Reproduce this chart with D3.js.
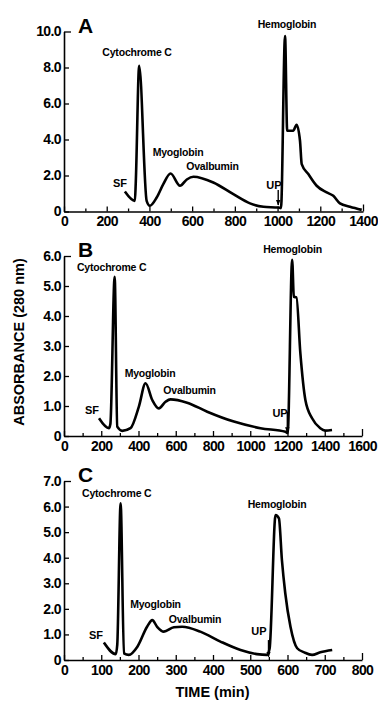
<!DOCTYPE html>
<html><head><meta charset="utf-8">
<script src="https://cdn.jsdelivr.net/npm/d3@7"></script>
<style>html,body{margin:0;padding:0;background:#fff;}svg{display:block;}</style>
</head><body>
<script>
// ---- data ----
const timeA = [285, 332, 336, 352, 387, 402, 434, 465, 499, 543, 575, 606, 699, 793, 871, 934, 1003, 1016, 1035, 1045, 1073, 1089, 1105, 1113, 1144, 1183, 1230, 1261, 1292, 1339, 1394];
const absA  = [1.11, 0.59, 1.6, 8.1, 0.59, 0.32, 0.78, 1.52, 2.11, 1.43, 1.78, 1.93, 1.61, 0.96, 0.45, 0.26, 0.22, 0.19, 9.75, 4.49, 4.49, 4.82, 3.93, 2.63, 2.08, 1.43, 1.06, 0.87, 0.45, 0.26, 0.09];

const timeB = [188, 241, 249, 272, 286, 313, 357, 402, 438, 474, 509, 545, 572, 661, 769, 912, 1055, 1189, 1201, 1225, 1234, 1248, 1269, 1296, 1332, 1376, 1403, 1439];
const absB  = [0.59, 0.26, 0.4, 5.31, 0.31, 0.17, 0.26, 0.98, 1.76, 1.2, 0.92, 1.14, 1.22, 1.11, 0.81, 0.48, 0.26, 0.14, 0.1, 5.87, 4.64, 4.62, 2.76, 1.2, 0.59, 0.26, 0.18, 0.2];

const timeC = [107, 139, 143, 152, 161, 174, 197, 223, 237, 250, 268, 295, 317, 366, 420, 474, 518, 545, 552, 568, 577, 585, 594, 608, 626, 645, 666, 688, 720];
const absC  = [0.68, 0.23, 0.6, 6.13, 0.26, 0.2, 0.52, 1.3, 1.56, 1.3, 1.11, 1.28, 1.3, 1.11, 0.72, 0.39, 0.23, 0.2, 0.45, 5.67, 5.54, 3.91, 2.61, 1.3, 0.46, 0.3, 0.2, 0.3, 0.39];

const xTicksA = [0, 200, 400, 600, 800, 1000, 1200, 1400];
const xTicksB = [0, 200, 400, 600, 800, 1000, 1200, 1400, 1600];
const xTicksC = [0, 100, 200, 300, 400, 500, 600, 700, 800];
const yTicksA = [0, 2, 4, 6, 8, 10];
const yTicksB = [0, 1, 2, 3, 4, 5, 6];
const yTicksC = [0, 1, 2, 3, 4, 5, 6, 7];

const labelNames = ["Cytochrome C", "Hemoglobin", "Myoglobin", "Ovalbumin", "SF", "UP"];
const labelTimeA = [342, 1044, 534, 695, 262, 983];
const labelAbsA  = [8.86, 10.42, 3.32, 2.54, 1.6, 1.47];
const labelTimeB = [256, 1227, 462, 674, 150, 1160];
const labelAbsB  = [5.62, 6.22, 2.09, 1.53, 0.87, 0.77];
const labelTimeC = [141.5, 572, 245.6, 351.7, 86, 523.5];
const labelAbsC  = [6.54, 6.09, 2.18, 1.6, 0.98, 1.13];

// UP arrow: [time, top absorbance, bottom absorbance]
const upArrowA = [1003, 1.19, 0.36];
const upArrowB = [1199, 0.81, 0.12];
const upArrowC = [549, 0.78, 0.13];

const panelLetters = ["A", "B", "C"];
const yTitle = "ABSORBANCE (280 nm)";
const xTitle = "TIME (min)";

// ---- layout ----
const W = 378, H = 701;
const FONT = "'Liberation Sans', Arial, Helvetica, sans-serif";
const svg = d3.select("body").append("svg").attr("width", W).attr("height", H);
svg.append("rect").attr("width", W).attr("height", H).attr("fill", "#fff");

const defs = svg.append("defs");
defs.append("marker").attr("id", "arr").attr("viewBox", "0 0 10 10")
  .attr("refX", 9).attr("refY", 5).attr("markerWidth", 4).attr("markerHeight", 5)
  .attr("orient", "auto").attr("markerUnits", "strokeWidth")
  .append("path").attr("d", "M0,1 L10,5 L0,9 Z").attr("fill", "#000");

const panels = [
  {time: timeA, abs: absA, xt: xTicksA, yt: yTicksA, xMax: 1400, yMax: 10, minor: 100,
   lt: labelTimeA, lv: labelAbsA, up: upArrowA, left: 64, right: 363, top: 31.5, bottom: 211.5},
  {time: timeB, abs: absB, xt: xTicksB, yt: yTicksB, xMax: 1600, yMax: 6, minor: 100,
   lt: labelTimeB, lv: labelAbsB, up: upArrowB, left: 64, right: 362, top: 256, bottom: 436},
  {time: timeC, abs: absC, xt: xTicksC, yt: yTicksC, xMax: 800, yMax: 7, minor: 50,
   lt: labelTimeC, lv: labelAbsC, up: upArrowC, left: 64, right: 362, top: 481, bottom: 660}
];

panels.forEach((p, i) => {
  const x = d3.scaleLinear().domain([0, p.xMax]).range([p.left, p.right]);
  const y = d3.scaleLinear().domain([0, p.yMax]).range([p.bottom, p.top]);
  const g = svg.append("g");

  // x axis
  const minorVals = d3.range(0, p.xMax + 0.001, p.minor);
  const xAxis = d3.axisBottom(x).tickValues(minorVals).tickSizeInner(-3).tickSizeOuter(0)
    .tickFormat(d => p.xt.includes(d) ? d : "");
  const gx = g.append("g").attr("transform", `translate(0,${p.bottom})`).call(xAxis);
  gx.select(".domain").attr("stroke-width", 1.6);
  gx.selectAll(".tick line").attr("stroke-width", 1.3)
    .attr("y2", d => p.xt.includes(d) ? (d === p.xMax ? -7 : -5) : -3);
  gx.selectAll(".tick text").attr("font-family", FONT).attr("font-weight", "bold")
    .attr("font-size", 14).attr("fill", "#000").attr("y", 5).attr("letter-spacing", -0.6);

  // y axis
  const yAxis = d3.axisLeft(y).tickValues(p.yt).tickSizeInner(-5).tickSizeOuter(0)
    .tickFormat(d => d === 0 ? "0" : d3.format(".1f")(d));
  const gy = g.append("g").attr("transform", `translate(${p.left},0)`).call(yAxis);
  gy.select(".domain").attr("stroke-width", 1.6);
  gy.selectAll(".tick line").attr("stroke-width", 1.3)
    .attr("x2", d => d === p.yMax ? 7 : 5);
  gy.selectAll(".tick text").attr("font-family", FONT).attr("font-weight", "bold")
    .attr("font-size", 14).attr("fill", "#000").attr("x", -3).attr("letter-spacing", -0.6);

  // curve
  const pts = p.time.map((t, k) => [t, p.abs[k]]);
  g.append("path").datum(pts)
    .attr("d", d3.line().x(d => x(d[0])).y(d => y(d[1])).curve(d3.curveMonotoneX))
    .attr("fill", "none").attr("stroke", "#000").attr("stroke-width", 2.6)
    .attr("stroke-linejoin", "round");

  // UP arrow
  g.append("line").attr("x1", x(p.up[0])).attr("x2", x(p.up[0]))
    .attr("y1", y(p.up[1])).attr("y2", y(p.up[2]))
    .attr("stroke", "#000").attr("stroke-width", 1.4).attr("marker-end", "url(#arr)");

  // annotations
  labelNames.forEach((name, k) => {
    const small = (name === "SF" || name === "UP");
    g.append("text").attr("x", x(p.lt[k])).attr("y", y(p.lv[k]))
      .attr("text-anchor", "middle").attr("dominant-baseline", "central")
      .attr("font-family", FONT).attr("font-weight", "bold")
      .attr("font-size", small ? 11 : 10.5).attr("letter-spacing", small ? 0 : -0.2)
      .text(name);
  });

  // panel letter
  g.append("text").attr("x", p.left + 14).attr("y", p.top + 1)
    .attr("font-family", FONT).attr("font-weight", "bold").attr("font-size", 21)
    .text(panelLetters[i]);
});

// axis titles
svg.append("text").attr("transform", "translate(24,342) rotate(-90)")
  .attr("text-anchor", "middle").attr("font-family", FONT).attr("font-weight", "bold")
  .attr("font-size", 14.5).text(yTitle);
svg.append("text").attr("x", 212.5).attr("y", 697)
  .attr("text-anchor", "middle").attr("font-family", FONT).attr("font-weight", "bold")
  .attr("font-size", 14.5).text(xTitle);
</script>
</body></html>
